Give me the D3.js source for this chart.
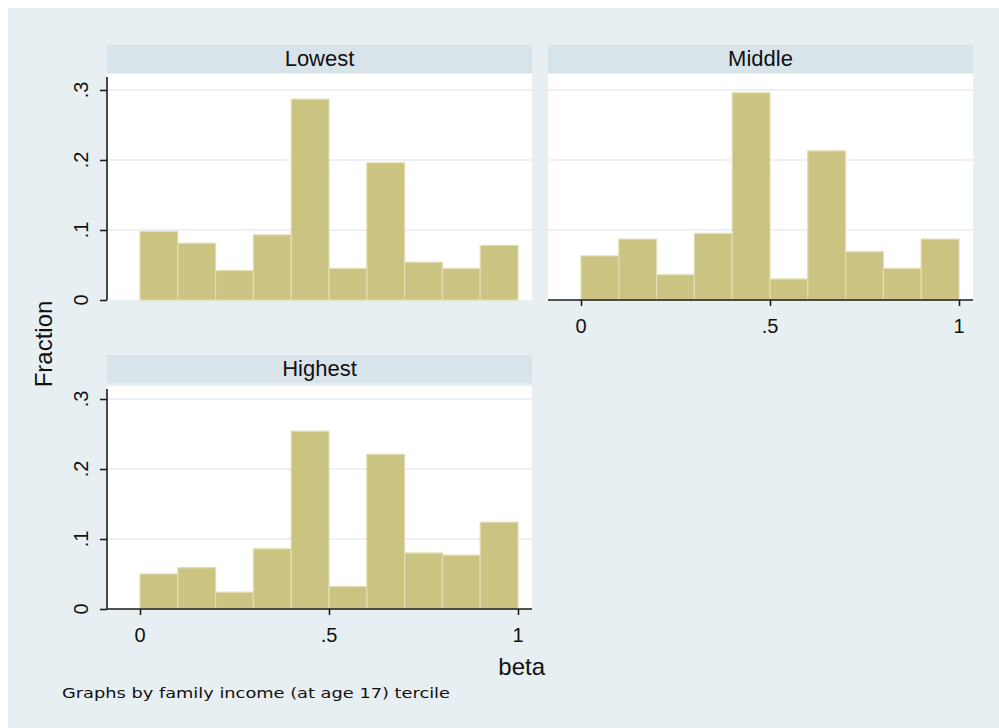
<!DOCTYPE html>
<html>
<head>
<meta charset="utf-8">
<script src="https://cdn.jsdelivr.net/npm/d3@7"></script>
<style>
  html, body { margin: 0; padding: 0; background: #ffffff; }
  svg { display: block; }
  text { font-family: "Liberation Sans", Arial, sans-serif; fill: #111; }
</style>
</head>
<body>
<svg id="chart" width="999" height="728"></svg>
<script>
// Histogram of beta by family income tercile (fraction per bin of width 0.1)
const binEdges = [0, 0.1, 0.2, 0.3, 0.4, 0.5, 0.6, 0.7, 0.8, 0.9, 1.0];
const panelNames = ["Lowest", "Middle", "Highest"];
const lowestFrac  = [0.098, 0.081, 0.042, 0.093, 0.287, 0.045, 0.196, 0.054, 0.045, 0.078];
const middleFrac  = [0.063, 0.087, 0.036, 0.095, 0.296, 0.030, 0.213, 0.069, 0.045, 0.087];
const highestFrac = [0.050, 0.059, 0.024, 0.086, 0.254, 0.032, 0.221, 0.080, 0.077, 0.124];
const yTicks = [0, 0.1, 0.2, 0.3];
const yTickLabels = ["0", ".1", ".2", ".3"];
const xTicks = [0, 0.5, 1];
const xTickLabels = ["0", ".5", "1"];
const yTitle = "Fraction";
const xTitle = "beta";
const note = "Graphs by family income (at age 17) tercile";

const svg = d3.select("#chart");

const C = {
  bg: "#e8eff2",
  strip: "#d9e4ea",
  grid: "#e6eef1",
  bar: "#cbc382",
  barEdge: "#e2ddb2",
  axis: "#1c1c1c"
};

// graph region
svg.append("rect").attr("x", 8).attr("y", 8).attr("width", 991).attr("height", 720).attr("fill", C.bg);

// panel layout: column left edges, row geometry
const colLeft = [107, 548];
const plotW = 425;
const rows = [
  { stripTop: 45, plotTop: 74, zeroY: 300 },
  { stripTop: 355, plotTop: 386, zeroY: 609 }
];
const panels = [
  { name: panelNames[0], values: lowestFrac,  col: 0, row: 0, yAxis: true,  xAxis: false },
  { name: panelNames[1], values: middleFrac,  col: 1, row: 0, yAxis: false, xAxis: true },
  { name: panelNames[2], values: highestFrac, col: 0, row: 1, yAxis: true,  xAxis: true }
];

panels.forEach(p => {
  const left = colLeft[p.col];
  const r = rows[p.row];
  const x = d3.scaleLinear().domain([0, 1]).range([left + 33, left + 411]);
  const y = d3.scaleLinear().domain([0, 0.3]).range([r.zeroY, r.zeroY - 210]);
  const g = svg.append("g");

  // subtitle strip
  g.append("rect").attr("x", left).attr("y", r.stripTop).attr("width", plotW).attr("height", 28).attr("fill", C.strip);
  g.append("text").attr("x", left + plotW / 2).attr("y", r.stripTop + 21)
    .attr("text-anchor", "middle").style("font-size", "22px").text(p.name);

  // plot region
  g.append("rect").attr("x", left).attr("y", r.plotTop).attr("width", plotW).attr("height", r.zeroY - r.plotTop).attr("fill", "#fff");

  // gridlines
  g.selectAll("line.grid").data(yTicks.slice(1)).join("line")
    .attr("x1", left).attr("x2", left + plotW)
    .attr("y1", d => y(d)).attr("y2", d => y(d))
    .attr("stroke", C.grid).attr("stroke-width", 1.6);

  // bars
  const bins = p.values.map((v, i) => ({ x0: binEdges[i], x1: binEdges[i + 1], v }));
  g.selectAll("rect.bar").data(bins).join("rect")
    .attr("x", d => x(d.x0)).attr("width", d => x(d.x1) - x(d.x0))
    .attr("y", d => y(d.v)).attr("height", d => y(0) - y(d.v))
    .attr("fill", C.bar).attr("stroke", C.barEdge).attr("stroke-width", 1.2);

  // y axis
  if (p.yAxis) {
    const ya = g.append("g").attr("transform", `translate(${left},0)`)
      .call(d3.axisLeft(y).tickValues(yTicks).tickSize(7).tickFormat(""));
    ya.select(".domain").attr("d", `M-0,${r.plotTop + 3}V${r.zeroY}`);
    ya.selectAll("path, line").attr("stroke", C.axis).attr("stroke-width", 1.6);
    g.selectAll("text.ytl").data(yTicks).join("text")
      .attr("transform", (d, i) => `translate(${left - 19},${y(d)}) rotate(-90)`)
      .attr("text-anchor", "middle").style("font-size", "20px")
      .text((d, i) => yTickLabels[i]);
  }

  // x axis
  if (p.xAxis) {
    const xa = g.append("g").attr("transform", `translate(0,${r.zeroY})`)
      .call(d3.axisBottom(x).tickValues(xTicks).tickSize(6).tickFormat(""));
    xa.select(".domain").attr("d", `M${left},0H${left + plotW}`);
    xa.selectAll("path, line").attr("stroke", C.axis).attr("stroke-width", 1.6);
    g.selectAll("text.xtl").data(xTicks).join("text")
      .attr("x", d => x(d)).attr("y", r.zeroY + 33)
      .attr("text-anchor", "middle").style("font-size", "20px")
      .text((d, i) => xTickLabels[i]);
  }
});

// axis titles
svg.append("text").attr("transform", "translate(52,344) rotate(-90)")
  .attr("text-anchor", "middle").style("font-size", "24px").text(yTitle);
svg.append("text").attr("x", 545).attr("y", 675)
  .attr("text-anchor", "end").style("font-size", "24px").text(xTitle);

// note
svg.append("text").attr("x", 62).attr("y", 698)
  .attr("textLength", 388).attr("lengthAdjust", "spacingAndGlyphs")
  .style("font-family", "'DejaVu Sans', sans-serif").style("font-size", "14px")
  .text(note);
</script>
</body>
</html>
